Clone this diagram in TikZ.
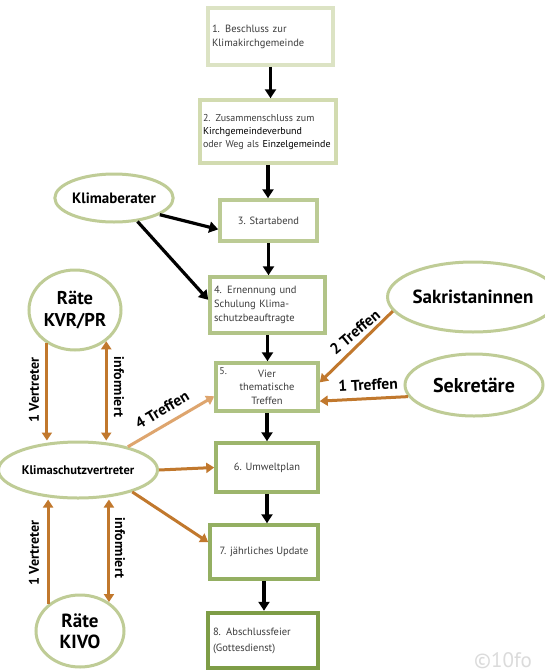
\documentclass[tikz,border=0pt]{standalone}
\usepackage{fontspec}
\setmainfont{PT Sans}
\usetikzlibrary{arrows.meta,shapes.geometric}
\definecolor{orng}{HTML}{C1782D}
\definecolor{lorng}{HTML}{DEA56E}
\definecolor{ellg}{HTML}{BFCC96}
\definecolor{txtg}{HTML}{3C3C3C}
\definecolor{cA}{HTML}{DCE3C4}
\definecolor{cB}{HTML}{D2DBB0}
\definecolor{cC}{HTML}{BCCB95}
\definecolor{cD}{HTML}{B2C488}
\definecolor{cE}{HTML}{AEC283}
\definecolor{cF}{HTML}{9DB56C}
\definecolor{cG}{HTML}{94AF62}
\definecolor{cH}{HTML}{7E9D47}
\begin{document}
\begin{tikzpicture}[x=1pt,y=-1pt,
  stepbox/.style={rectangle, draw, line width=3.5pt, fill=white, inner sep=3pt, text=txtg, font=\fontsize{10.5}{14}\selectfont},
  bubble/.style={ellipse, draw=ellg, line width=3pt, fill=white, inner sep=0pt, text=black, align=center},
  blk/.style={-{Triangle[length=9pt,width=11pt]}, line width=3.2pt, black},
  oarr/.style={-{Triangle[length=8pt,width=10pt]}, line width=3pt, orng},
  odbl/.style={{Triangle[length=8pt,width=10pt]}-{Triangle[length=8pt,width=10pt]}, line width=3pt, orng},
  lab/.style={font=\bfseries\fontsize{14}{14}\selectfont, text=black, inner sep=0pt},
  tlab/.style={font=\bfseries\fontsize{15.5}{16}\selectfont, text=black, inner sep=0pt}
]
\useasboundingbox (0,0) rectangle (544,672);
\fill[white] (0,0) rectangle (544,672);

% step boxes
\node[stepbox, draw=cA, minimum width=125pt, minimum height=57pt, text width=117pt, align=left] (b1) at (270.5,36.5)
  {1. Beschluss zur\\Klimakirchgemeinde};
\node[stepbox, draw=cB, minimum width=136pt, minimum height=63pt, text width=130pt, align=left, font=\fontsize{10}{13}\selectfont] (b2) at (268,131.5)
  {2. Zusammenschluss zum\\{\color{black}Kirchgemeindeverbund}\\oder Weg als {\color{black}Einzelgemeinde}};
\node[stepbox, draw=cC, minimum width=97pt, minimum height=41pt, align=center] (b3) at (268.5,220.5)
  {3. Startabend};
\node[stepbox, draw=cD, minimum width=115pt, minimum height=56pt, text width=107pt, align=left] (b4) at (267.5,305)
  {4. Ernennung und\\Schulung Klima-\\schutzbeauftragte};
\node[stepbox, draw=cE, minimum width=102pt, minimum height=48pt, align=center, font=\fontsize{10.5}{13.5}\selectfont,
  label={[anchor=north west, xshift=5pt, yshift=-6pt, inner sep=0pt, text=txtg, font=\fontsize{10}{12}\selectfont]north west:5.}] (b5) at (267,387)
  {Vier\\thematische\\Treffen};
\node[stepbox, draw=cF, minimum width=102pt, minimum height=49pt, align=center] (b6) at (267,467.5)
  {6. Umweltplan};
\node[stepbox, draw=cG, minimum width=108pt, minimum height=54pt, align=center] (b7) at (264,552)
  {7. jährliches Update};
\node[stepbox, draw=cH, line width=4.5pt, minimum width=110pt, minimum height=55pt, text width=100pt, align=left, font=\fontsize{10.5}{16}\selectfont] (b8) at (263,640.5)
  {8. Abschlussfeier\\(Gottesdienst)};

% ellipses
\node[bubble, minimum width=118pt, minimum height=48pt, font=\bfseries\fontsize{15}{16}\selectfont] (kb) at (114,198) {Klimaberater};
\node[bubble, minimum width=92pt, minimum height=80pt, font=\bfseries\fontsize{18.5}{22}\selectfont] (rk) at (75,310) {Räte\\KVR/PR};
\node[bubble, minimum width=136pt, minimum height=56pt, font=\bfseries\fontsize{12.5}{14}\selectfont] (ks) at (78,470) {Klimaschutzvertreter};
\node[bubble, minimum width=88pt, minimum height=72pt, font=\bfseries\fontsize{19}{21}\selectfont] (kv) at (80,631) {Räte\\KIVO};
\node[bubble, minimum width=142pt, minimum height=70pt, font=\bfseries\fontsize{19}{20}\selectfont] (sk) at (473,297) {Sakristaninnen};
\node[bubble, minimum width=138pt, minimum height=62pt, font=\bfseries\fontsize{20}{21}\selectfont] (se) at (474,385) {Sekretäre};

% black flow arrows
\draw[blk] (b1.south) -- (b1.south |- b2.north);
\draw[blk] (b2.south) -- (b2.south |- b3.north);
\draw[blk] (b3.south) -- (b3.south |- b4.north);
\draw[blk] (b4.south) -- (b4.south |- b5.north);
\draw[blk] (b5.south) -- (b5.south |- b6.north);
\draw[blk] (b6.south) -- (b6.south |- b7.north);
\draw[blk] (b7.south) -- (b7.south |- b8.north);
\draw[blk] (kb.-20) -- (b3.190);
\draw[blk] (kb.-45) -- (b4.175);

% orange arrows
\draw[oarr] (rk.230) -- (rk.230 |- ks.north);
\draw[odbl] (rk.315) -- (rk.315 |- ks.north);
\draw[oarr] (kv.140) -- (kv.140 |- ks.south);
\draw[odbl] (kv.45 |- ks.south) -- (kv.45);
\draw[oarr, lorng] (ks.25) -- (b5.190);
\draw[oarr] (ks.east) -- (b6.west);
\draw[oarr] (ks.-22) -- (b7.170);
\draw[oarr] (sk.190) -- (b5.5);
\draw[oarr] (se.190) -- (b5.-15);

% labels
\node[lab, rotate=90] (l1) at (34,390) {1 Vertreter};
\node[lab, rotate=-90] (l2) at (119,387) {informiert};
\node[lab, rotate=90] (l3) at (34,553) {1 Vertreter};
\node[lab, rotate=-90] (l4) at (120,548) {informiert};
\node[tlab, rotate=31] (t4) at (162,410) {4 Treffen};
\node[tlab, rotate=40] (t2) at (355,332) {2 Treffen};
\node[tlab, rotate=3] (t1) at (368,385) {1 Treffen};

% watermark
\node[anchor=west, inner sep=0pt, text=black!14, font=\fontsize{21}{21}\selectfont] (wm) at (474,661) {©10fo};
\end{tikzpicture}
\end{document}
